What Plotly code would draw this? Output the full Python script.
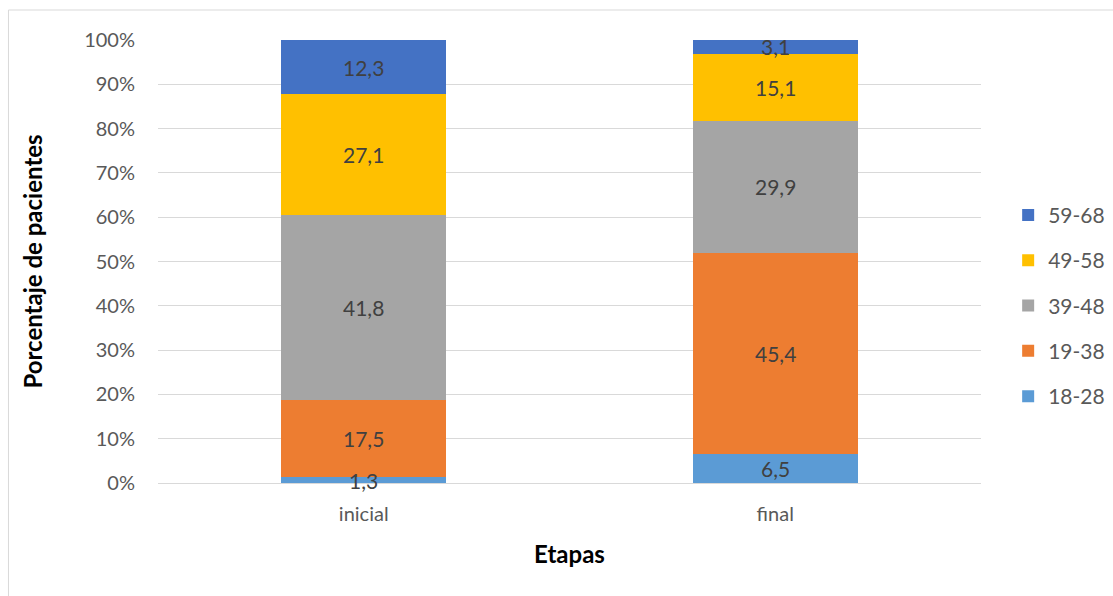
import plotly.graph_objects as go

etapas = ["inicial", "final"]
grupos = ["18-28", "19-38", "39-48", "49-58", "59-68"]
valores = {
    "18-28": [1.3, 6.5],
    "19-38": [17.5, 45.4],
    "39-48": [41.8, 29.9],
    "49-58": [27.1, 15.1],
    "59-68": [12.3, 3.1],
}
colores = {
    "18-28": "#5B9BD5",
    "19-38": "#ED7D31",
    "39-48": "#A5A5A5",
    "49-58": "#FFC000",
    "59-68": "#4472C4",
}
ticks_y = [0, 10, 20, 30, 40, 50, 60, 70, 80, 90, 100]

FONT = "Lato"

fig = go.Figure()
for i, g in enumerate(grupos):
    fig.add_trace(go.Bar(
        x=etapas, y=valores[g], name=g,
        marker=dict(color=colores[g], line=dict(width=0)),
        legendgroup=g, legendrank=1000 - i, hoverinfo="skip",
    ))

# value labels centred in each stacked segment
annotations = []
acum = [0.0] * len(etapas)
for g in grupos:
    for i, e in enumerate(etapas):
        v = valores[g][i]
        annotations.append(dict(
            x=e, y=acum[i] + v / 2, xref="x", yref="y",
            text=f"{v:.1f}".replace(".", ","), showarrow=False,
            font=dict(family=FONT, size=21, color="#404040"),
        ))
        acum[i] += v

fig.update_layout(
    barmode="stack",
    bargap=0.6,
    width=1113, height=596,
    margin=dict(l=158, r=132, t=40, b=113, autoexpand=False),
    paper_bgcolor="white", plot_bgcolor="white",
    font=dict(family=FONT, size=18, color="#595959"),
    annotations=annotations,
    legend=dict(
        x=1.033, y=0.40, xanchor="left", yanchor="middle",
        traceorder="grouped", tracegroupgap=15,
        font=dict(family=FONT, size=21, color="#595959"),
        itemwidth=30,
    ),
    shapes=[dict(
        type="rect", xref="paper", yref="paper",
        x0=-0.1817, x1=1.3, y0=-0.4, y1=1.0677,
        line=dict(color="#D9D9D9", width=1), layer="below",
    )],
)
fig.update_yaxes(
    range=[0, 100], tickvals=ticks_y,
    ticktext=[f"{t}%" for t in ticks_y],
    showgrid=True, gridcolor="#D9D9D9", gridwidth=1,
    zeroline=True, zerolinecolor="#D9D9D9", zerolinewidth=1,
    showline=False, ticks="", ticklabelstandoff=22,
    tickfont=dict(family=FONT, size=20, color="#595959"),
    title=dict(text="<b>Porcentaje de pacientes</b>", standoff=34,
               font=dict(family=FONT, size=24, color="#000000")),
)
fig.update_xaxes(
    showgrid=False, showline=False, ticks="",
    ticklabelstandoff=17,
    tickfont=dict(family=FONT, size=20, color="#595959"),
    title=dict(text="<b>Etapas</b>", standoff=22,
               font=dict(family=FONT, size=24, color="#000000")),
)

fig.write_html("out.html")
